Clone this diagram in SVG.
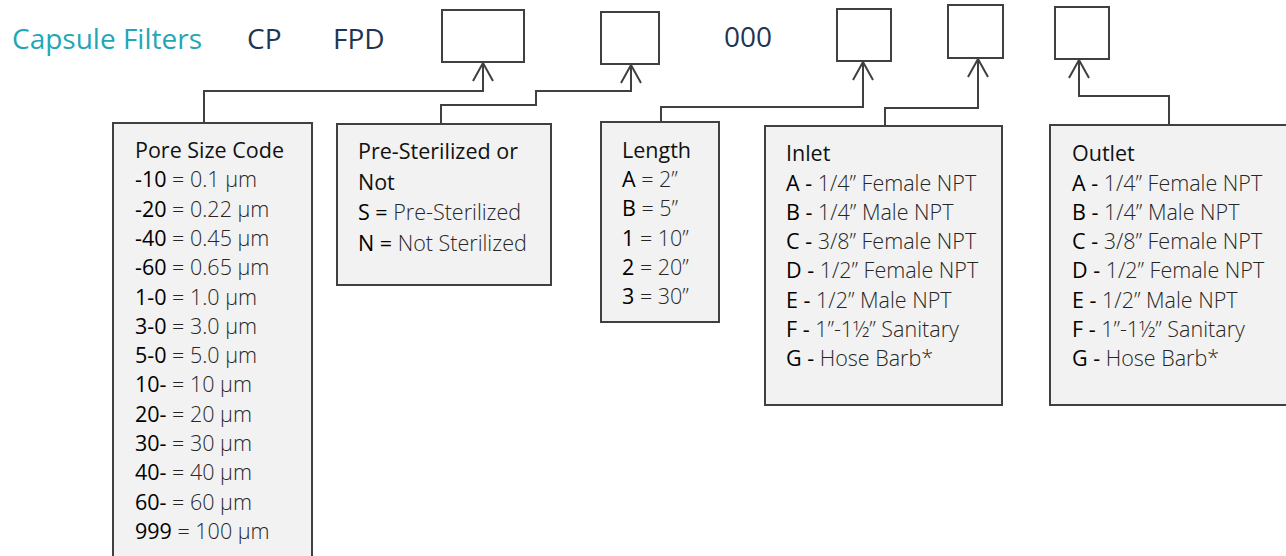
<svg xmlns="http://www.w3.org/2000/svg" width="1286" height="556" viewBox="0 0 1286 556">
<defs>
<style>
.title{font-family:"Open Sans","Liberation Sans",sans-serif;font-size:28px;fill:#1fa7b6;}
.code{font-family:"Open Sans","Liberation Sans",sans-serif;font-size:28px;fill:#1f3553;}
.slot{fill:#ffffff;stroke:#404040;stroke-width:2;}
.box{fill:#f2f2f2;stroke:#404040;stroke-width:2;}
.t{font-family:"Open Sans","Liberation Sans",sans-serif;font-size:21.5px;fill:#262626;font-weight:300;}
.h{font-weight:400;fill:#111;}
.k{font-weight:400;fill:#000;}
.conn{fill:none;stroke:#404040;stroke-width:2;marker-end:url(#arr);}
</style>
<marker id="arr" markerUnits="userSpaceOnUse" viewBox="-20 -12 22 24" refX="0" refY="0" markerWidth="22" markerHeight="24" orient="auto">
<path d="M-18,-10 L0,0 L-18,10" fill="none" stroke="#404040" stroke-width="2"/>
</marker>
</defs>

<g id="header">
<text class="title" x="12" y="49">Capsule Filters</text>
<text class="code" x="247" y="49">CP</text>
<text class="code" x="333" y="49">FPD</text>
<text class="code" x="724" y="47">000</text>
</g>

<g id="slot1"><rect class="slot" x="442" y="10" width="82" height="52"/></g>
<g id="slot2"><rect class="slot" x="601" y="12" width="58" height="52"/></g>
<g id="slot3"><rect class="slot" x="837" y="9" width="54" height="52"/></g>
<g id="slot4"><rect class="slot" x="948" y="5" width="55" height="53"/></g>
<g id="slot5"><rect class="slot" x="1055" y="7" width="54" height="52"/></g>

<g id="connectors">
<path class="conn" d="M204,124 V91 H483 V63"/>
<path class="conn" d="M441,124 V105 H536 V91 H631 V65"/>
<path class="conn" d="M661,122 V107 H863 V62"/>
<path class="conn" d="M885,126 V108 H978 V59"/>
<path class="conn" d="M1169,125 V96 H1079 V60"/>
</g>

<g id="pore-size">
<rect class="box" x="113" y="123" width="199" height="445"/>
<text class="t" x="135">
<tspan class="h" x="135" y="158">Pore Size Code</tspan>
<tspan x="135" y="187.3"><tspan class="k">-10</tspan> = 0.1 µm</tspan>
<tspan x="135" y="216.6"><tspan class="k">-20</tspan> = 0.22 µm</tspan>
<tspan x="135" y="245.9"><tspan class="k">-40</tspan> = 0.45 µm</tspan>
<tspan x="135" y="275.2"><tspan class="k">-60</tspan> = 0.65 µm</tspan>
<tspan x="135" y="304.5"><tspan class="k">1-0</tspan> = 1.0 µm</tspan>
<tspan x="135" y="333.8"><tspan class="k">3-0</tspan> = 3.0 µm</tspan>
<tspan x="135" y="363.1"><tspan class="k">5-0</tspan> = 5.0 µm</tspan>
<tspan x="135" y="392.4"><tspan class="k">10-</tspan> = 10 µm</tspan>
<tspan x="135" y="421.7"><tspan class="k">20-</tspan> = 20 µm</tspan>
<tspan x="135" y="451"><tspan class="k">30-</tspan> = 30 µm</tspan>
<tspan x="135" y="480.3"><tspan class="k">40-</tspan> = 40 µm</tspan>
<tspan x="135" y="509.6"><tspan class="k">60-</tspan> = 60 µm</tspan>
<tspan x="135" y="538.9"><tspan class="k">999</tspan> = 100 µm</tspan>
</text>
</g>

<g id="sterilized">
<rect class="box" x="337" y="124" width="214" height="161"/>
<text class="t" x="358">
<tspan class="h" x="358" y="159">Pre-Sterilized or</tspan>
<tspan class="h" x="358" y="189.5">Not</tspan>
<tspan x="358" y="220"><tspan class="k">S =</tspan> Pre-Sterilized</tspan>
<tspan x="358" y="250.5"><tspan class="k">N =</tspan> Not Sterilized</tspan>
</text>
</g>

<g id="length">
<rect class="box" x="601" y="122" width="118" height="200"/>
<text class="t" x="622">
<tspan class="h" x="622" y="157.5">Length</tspan>
<tspan x="622" y="187"><tspan class="k">A</tspan> = 2”</tspan>
<tspan x="622" y="216.3"><tspan class="k">B</tspan> = 5”</tspan>
<tspan x="622" y="245.6"><tspan class="k">1</tspan> = 10”</tspan>
<tspan x="622" y="274.9"><tspan class="k">2</tspan> = 20”</tspan>
<tspan x="622" y="304.2"><tspan class="k">3</tspan> = 30”</tspan>
</text>
</g>

<g id="inlet">
<rect class="box" x="765" y="126" width="237" height="279"/>
<text class="t" x="786">
<tspan class="h" x="786" y="161">Inlet</tspan>
<tspan x="786" y="190.5"><tspan class="k">A -</tspan> 1/4” Female NPT</tspan>
<tspan x="786" y="219.8"><tspan class="k">B -</tspan> 1/4” Male NPT</tspan>
<tspan x="786" y="249.1"><tspan class="k">C -</tspan> 3/8” Female NPT</tspan>
<tspan x="786" y="278.4"><tspan class="k">D -</tspan> 1/2” Female NPT</tspan>
<tspan x="786" y="307.7"><tspan class="k">E -</tspan> 1/2” Male NPT</tspan>
<tspan x="786" y="337"><tspan class="k">F -</tspan> 1”-1½” Sanitary</tspan>
<tspan x="786" y="366.3"><tspan class="k">G -</tspan> Hose Barb*</tspan>
</text>
</g>

<g id="outlet">
<rect class="box" x="1050" y="125" width="237" height="280"/>
<text class="t" x="1072">
<tspan class="h" x="1072" y="161">Outlet</tspan>
<tspan x="1072" y="190.5"><tspan class="k">A -</tspan> 1/4” Female NPT</tspan>
<tspan x="1072" y="219.8"><tspan class="k">B -</tspan> 1/4” Male NPT</tspan>
<tspan x="1072" y="249.1"><tspan class="k">C -</tspan> 3/8” Female NPT</tspan>
<tspan x="1072" y="278.4"><tspan class="k">D -</tspan> 1/2” Female NPT</tspan>
<tspan x="1072" y="307.7"><tspan class="k">E -</tspan> 1/2” Male NPT</tspan>
<tspan x="1072" y="337"><tspan class="k">F -</tspan> 1”-1½” Sanitary</tspan>
<tspan x="1072" y="366.3"><tspan class="k">G -</tspan> Hose Barb*</tspan>
</text>
</g>
</svg>
